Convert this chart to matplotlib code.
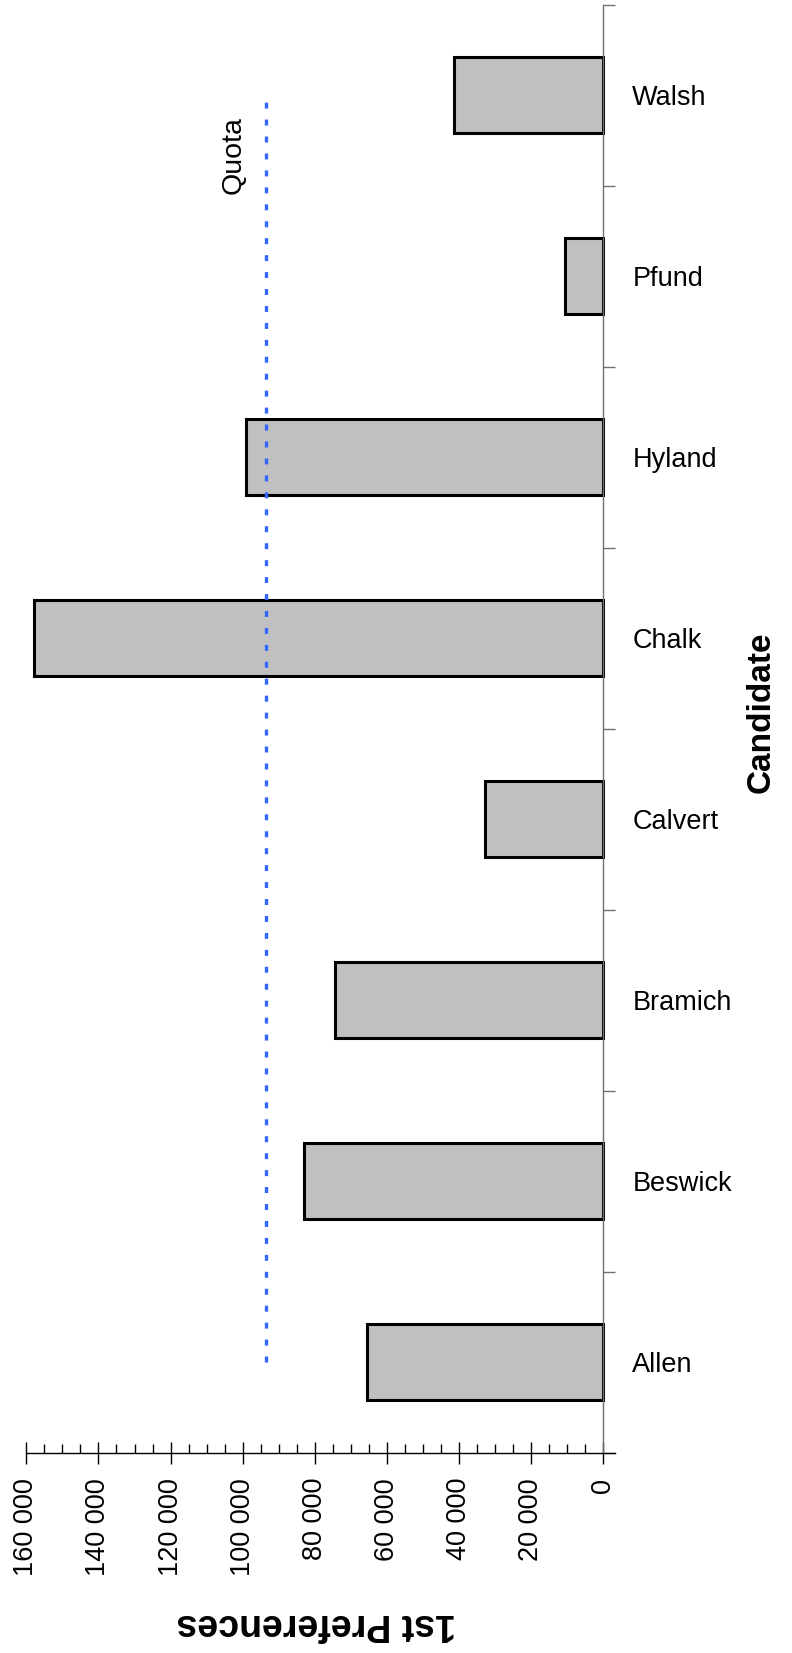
import matplotlib
matplotlib.use("Agg")
import matplotlib.pyplot as plt
from matplotlib.ticker import MultipleLocator, FixedLocator

candidates = ["Allen", "Beswick", "Bramich", "Calvert", "Chalk", "Hyland", "Pfund", "Walsh"]
first_prefs = [65400, 83100, 74300, 32700, 158000, 99100, 10500, 41500]
quota = 93600
xtick_values = [0, 20000, 40000, 60000, 80000, 100000, 120000, 140000, 160000]
xtick_labels = ["0", "20 000", "40 000", "60 000", "80 000", "100 000", "120 000", "140 000", "160 000"]

plt.rcParams['lines.scale_dashes'] = False
narrow = ['Liberation Sans Narrow', 'Liberation Sans', 'DejaVu Sans']
bold = ['Liberation Sans', 'DejaVu Sans']
fs = 19.5

fig = plt.figure(figsize=(7.92, 16.53), dpi=100)
ax = fig.add_axes([0.0333, 0.121, 0.7432, 0.8762])

ypos = list(range(len(candidates)))
ax.barh(ypos, first_prefs, height=0.42, color='#C0C0C0', edgecolor='black', linewidth=2.2, zorder=2)

ax.plot([quota, quota], [ypos[0], ypos[-1]], color='#3366FF', linewidth=2.4,
        linestyle=(0, (4.3, 7.9)), zorder=3)
ax.text(102400, 6.67, "Quota", rotation=90, ha='center', va='center', fontsize=fs + 1, family=narrow)

ax.set_xlim(160000, -3300)
ax.set_ylim(-0.5, len(candidates) - 0.5)

for s in ['left', 'top']:
    ax.spines[s].set_visible(False)
ax.spines['right'].set_position(('data', 0))
ax.spines['right'].set_color('#707070')
ax.spines['right'].set_linewidth(1.0)
ax.spines['bottom'].set_linewidth(1.0)

# y (category) axis on the right
ax.yaxis.tick_right()
ax.yaxis.set_major_locator(FixedLocator([i - 0.5 for i in range(len(candidates) + 1)]))
ax.yaxis.set_minor_locator(FixedLocator(ypos))
ax.yaxis.set_major_formatter(plt.NullFormatter())
ax.set_yticklabels(candidates, minor=True, family=narrow, fontsize=fs)
ax.tick_params(axis='y', which='major', direction='out', length=8.5, width=1.0, color='#707070', right=True, left=False)
ax.tick_params(axis='y', which='minor', length=0, pad=21, right=True, left=False)

# x (value) axis at bottom
ax.xaxis.set_major_locator(FixedLocator(xtick_values))
ax.xaxis.set_minor_locator(MultipleLocator(5000))
ax.set_xticklabels(xtick_labels, rotation=90, family=narrow, fontsize=fs, va='top', ha='center')
ax.tick_params(axis='x', which='major', direction='inout', length=16, width=1.0, pad=10)
ax.tick_params(axis='x', which='minor', direction='in', length=6.5, width=1.0)

fig.text(316 / 792, 1 - 1624 / 1653, "1st Preferences", rotation=180, ha='center', va='center',
         fontsize=27, fontweight='bold', family=bold)
fig.text(761 / 792, 1 - 712 / 1653, "Candidate", rotation=90, ha='center', va='center',
         fontsize=24, fontweight='bold', family=bold)

fig.savefig("out.png", dpi=100)
